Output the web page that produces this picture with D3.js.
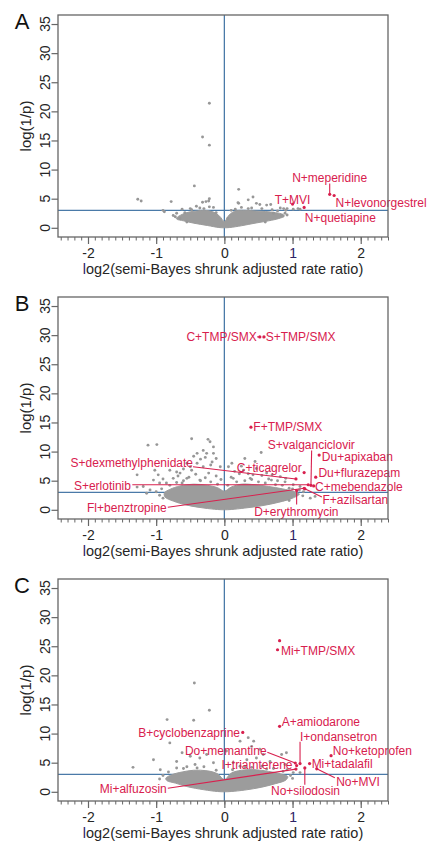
<!DOCTYPE html>
<html><head><meta charset="utf-8">
<script src="https://cdn.jsdelivr.net/npm/d3@7"></script>
<style>
body{margin:0;background:#fff}
svg{display:block}
text{font-family:"Liberation Sans",Arial,sans-serif}
</style>
</head><body>
<svg id="c" width="428" height="841"></svg>
<script>
// ---------- data ----------
const panelLetters = ["A", "B", "C"];
const xTicks = [-2, -1, 0, 1, 2];
const yTicks = [0, 5, 10, 15, 20, 25, 30, 35];
const pThreshold = 3;     // horizontal reference line, log(1/p)
const nullEffect = 0;     // vertical reference line
const xTitle = "log2(semi-Bayes shrunk adjusted rate ratio)";
const yTitle = "log(1/p)";

// dense core of the gray cloud (outline, data units)
const cloudA = [[-0.70,1.7],[-0.62,2.3],[-0.52,2.7],[-0.40,2.9],[-0.28,3.0],[-0.16,2.7],[-0.07,2.0],[0,1.1],[0.07,2.2],[0.16,2.9],[0.30,3.0],[0.45,2.9],[0.60,2.8],[0.75,2.6],[0.86,2.3],[0.88,2.0],[0.80,1.6],[0.65,1.2],[0.45,0.8],[0.25,0.35],[0.08,0.05],[0,0],[-0.08,0.05],[-0.25,0.4],[-0.45,0.8],[-0.60,1.2],[-0.70,1.5]];
const cloudB = [[-0.88,2.9],[-0.80,3.5],[-0.65,4.1],[-0.45,4.4],[-0.25,4.2],[-0.10,3.8],[0,3.2],[0.10,3.9],[0.25,4.4],[0.45,4.3],[0.65,4.0],[0.85,3.6],[1.03,3.1],[1.10,2.7],[1.0,2.0],[0.8,1.3],[0.55,0.7],[0.3,0.3],[0.1,0.05],[0,0],[-0.1,0.05],[-0.3,0.3],[-0.55,0.8],[-0.75,1.5],[-0.87,2.2]];
const cloudC = [[-0.86,2.3],[-0.78,2.9],[-0.62,3.4],[-0.45,3.7],[-0.25,3.6],[-0.10,3.1],[0,2.1],[0.10,3.2],[0.25,3.7],[0.45,3.8],[0.65,3.5],[0.82,3.1],[0.93,2.6],[0.90,2.0],[0.75,1.4],[0.55,0.8],[0.3,0.3],[0.1,0.05],[0,0],[-0.1,0.05],[-0.3,0.35],[-0.55,0.9],[-0.72,1.5],[-0.84,1.9]];

// individual gray points [log2 RR, log(1/p)]
const scatterA = [[-0.22,21.4],[-0.32,15.6],[-0.22,14.2],[-0.44,7.2],[0.21,6.6],
 [-1.27,4.9],[-1.22,4.6],[-0.78,4.5],[-0.32,4.4],[-0.27,4.5],[-0.23,4.6],[-0.22,5.0],
 [-0.41,3.7],[-0.36,3.4],[-0.22,3.6],[-0.16,3.5],[-0.88,2.75],[-0.90,3.0],[-0.70,2.5],[-0.62,3.2],[-0.65,1.6],
 [0.21,4.2],[0.35,4.8],[0.42,5.3],[0.47,4.2],[0.52,4.0],[0.62,3.9],[0.68,4.0],[0.82,3.4],[0.87,3.3],[0.90,3.0],
 [0.72,2.5],[0.16,3.2],[0.25,3.5],[1.11,3.2],[1.01,3.2],[0.89,2.5],[0.92,3.3],[1.08,3.3],[0.20,4.3],
 [-0.72,1.9],[-0.58,2.6],[-0.48,3.1],[-0.12,2.6],[0.05,1.6],[0.35,3.3],[0.55,3.3],[0.78,2.9],[0.84,2.1],[-0.55,1.0],[0.60,1.0],
 [-0.50,3.3],[-0.30,3.3],[0.10,3.0],[0.40,3.4],[0.70,3.1],[-0.75,2.1],[0.92,2.2]];
const scatterB = [[-0.99,11.2],[-1.12,11.1],[-0.48,12.2],[-0.24,12.1],[-0.21,11.7],[0.54,9.85],[-0.16,10.8],[-0.26,9.7],
 [-0.40,9.7],[-0.31,10.2],[-0.16,9.7],[-0.18,8.2],[-0.40,8.0],[-0.55,8.0],[-1.02,6.8],[-0.97,6.0],[-1.28,6.0],
 [-1.04,5.1],[-0.65,6.3],[-0.75,5.4],[-0.85,4.6],[-1.19,4.0],[-1.09,3.4],[-0.48,6.8],[-0.31,7.4],[-0.23,6.3],
 [-0.06,7.4],[-0.36,5.1],[-0.55,5.4],[-1.14,2.85],[-1.28,3.9],
 [0.06,7.4],[0.11,8.0],[0.28,6.8],[0.47,7.1],[0.62,6.3],[0.82,5.7],[0.69,5.1],[0.89,4.8],[0.13,5.4],[0.38,5.4],
 [1.11,4.0],[1.16,3.1],[1.26,2.0],[1.33,2.3],[1.01,4.3],
 [-0.95,2.5],[-1.0,3.1],[-0.92,3.6],[-0.70,4.7],[-0.60,5.0],[-0.35,5.0],[-0.20,4.8],[-0.10,4.4],[0.05,4.2],
 [0.18,4.8],[0.30,5.0],[0.50,4.8],[0.60,4.6],[0.75,4.3],[0.95,3.7],[1.10,3.4],[1.15,2.4],[0.95,1.6],[-0.90,2.0],
 [-0.12,5.8],[0.42,6.0],[0.22,6.2],[-0.42,6.1],[-0.68,5.8],
 [-0.45,9.2],[-0.35,8.7],[-0.28,9.0],[-0.20,7.7],[-0.12,8.8],[-0.50,7.4],[-0.60,7.0],[-0.70,6.5],[-0.80,6.8],
 [-0.90,5.3],[-0.95,4.6],[0.15,6.6],[0.25,7.5],[0.35,6.2],[0.55,5.9],[0.70,6.0],[0.78,5.0],[0.90,5.4],[0.45,8.3],[0.30,8.8],
 [-0.52,5.6],[-0.28,5.5],[-0.05,5.2],[0.10,5.6],[0.40,5.2],[0.65,5.3],[-0.80,4.2],[-0.62,4.6],[0.85,4.2],[1.00,3.6]];
const scatterC = [[-0.44,18.7],[-0.22,14.0],[-0.84,12.4],[-0.45,12.3],[-0.80,8.4],[-1.34,4.2],[-1.04,5.5],[-0.94,3.8],
 [-0.62,6.7],[-0.50,6.1],[-0.70,5.2],[-0.36,5.8],[-0.43,4.7],[-0.26,6.4],[-0.16,5.0],[0.03,7.0],[0.23,8.7],
 [0.35,9.3],[0.43,8.7],[0.40,7.8],[0.52,7.3],[0.57,6.4],[0.47,5.8],[0.67,5.2],[0.84,6.4],[0.89,4.7],[0.33,5.5],
 [0.13,5.0],[0.23,4.4],[0.92,3.8],[0.91,6.7],[1.01,3.3],[1.11,3.3],
 [-0.90,2.8],[-0.82,3.4],[-0.70,4.1],[-0.55,4.3],[-0.30,4.3],[-0.12,3.7],[0.12,3.8],[0.30,4.3],[0.55,4.4],
 [0.72,4.0],[0.86,3.5],[0.97,2.8],[-0.95,2.2],[1.0,2.3],[-0.60,4.0],[-0.40,4.1],[0.40,4.2],[0.62,3.9]];

// highlighted drug pairs: point (x,y), label position (lx,ly), anchor, optional leader start
const labelsA = [
 {t:"N+meperidine", x:1.545, y:5.75, lx:1.545, ly:8.6, a:"middle", lead:[1.545,7.6]},
 {t:"N+levonorgestrel", x:1.61, y:5.55, lx:1.63, ly:4.25, a:"start"},
 {t:"T+MVI", x:1.0, y:4.07, lx:1.0, ly:4.9, a:"middle"},
 {t:"N+quetiapine", x:1.17, y:3.5, lx:1.18, ly:1.8, a:"start"}
];
const labelsB = [
 {t:"C+TMP/SMX", x:0.52, y:29.7, lx:0.475, ly:29.7, a:"end", lead:[0.48,29.7]},
 {t:"S+TMP/SMX", x:0.58, y:29.7, lx:0.607, ly:29.7, a:"start", lead:[0.60,29.7]},
 {t:"F+TMP/SMX", x:0.39, y:14.2, lx:0.425, ly:14.3, a:"start"},
 {t:"S+valganciclovir", x:1.27, y:4.2, lx:1.276, ly:11.25, a:"middle", lead:[1.28,10.2]},
 {t:"Du+apixaban", x:1.39, y:9.4, lx:1.43, ly:9.2, a:"start"},
 {t:"Du+flurazepam", x:1.34, y:5.6, lx:1.38, ly:6.4, a:"start"},
 {t:"C+mebendazole", x:1.31, y:4.1, lx:1.33, ly:3.9, a:"start"},
 {t:"F+azilsartan", x:1.18, y:3.6, lx:1.44, ly:1.75, a:"start", lead:[1.43,2.2]},
 {t:"D+erythromycin", x:1.06, y:3.3, lx:1.056, ly:-0.4, a:"middle", lead:[1.06,0.9]},
 {t:"C+ticagrelor", x:1.17, y:6.4, lx:1.135, ly:7.2, a:"end"},
 {t:"S+dexmethylphenidate", x:1.05, y:5.3, lx:-0.46, ly:8.1, a:"end", lead:[-0.46,7.4]},
 {t:"S+erlotinib", x:1.23, y:4.3, lx:-1.37, ly:4.2, a:"end", lead:[-1.35,4.3]},
 {t:"Fl+benztropine", x:1.17, y:3.7, lx:-0.845, ly:0.4, a:"end", lead:[-0.83,0.45]}
];
const labelsC = [
 {t:null, x:0.81, y:25.95},
 {t:"Mi+TMP/SMX", x:0.78, y:24.4, lx:0.83, ly:24.3, a:"start"},
 {t:"A+amiodarone", x:0.81, y:11.25, lx:0.84, ly:12.0, a:"start"},
 {t:"B+cyclobenzaprine", x:0.27, y:10.2, lx:0.23, ly:10.2, a:"end"},
 {t:"I+ondansetron", x:1.11, y:4.85, lx:1.11, ly:9.4, a:"start", lead:[1.11,8.6]},
 {t:"No+ketoprofen", x:1.565, y:6.2, lx:1.59, ly:7.1, a:"start"},
 {t:"Do+memantine", x:1.04, y:4.95, lx:0.62, ly:7.1, a:"end", lead:[0.63,6.8]},
 {t:"I+triamterene", x:1.06, y:4.5, lx:1.0, ly:4.7, a:"end"},
 {t:"Mi+alfuzosin", x:1.05, y:3.9, lx:-0.845, ly:0.5, a:"end", lead:[-0.83,0.6]},
 {t:"No+silodosin", x:1.18, y:4.1, lx:1.19, ly:0.15, a:"middle", lead:[1.18,1.2]},
 {t:"Mi+tadalafil", x:1.25, y:4.85, lx:1.28, ly:4.85, a:"start"},
 {t:"No+MVI", x:1.355, y:3.95, lx:1.64, ly:1.75, a:"start", lead:[1.62,2.4]}
];

const panels = [
 {letter:panelLetters[0], cloud:cloudA, scatter:scatterA, labels:labelsA},
 {letter:panelLetters[1], cloud:cloudB, scatter:scatterB, labels:labelsB},
 {letter:panelLetters[2], cloud:cloudC, scatter:scatterC, labels:labelsC}
];

// ---------- layout ----------
const plotL = 58, plotR = 388, plotH = 222;
const panelTops = [15, 297, 579];
const gray = "#979797", cloudFill = "#9c9c9c", red = "#d8204e", blue = "#4a7aa8", boxCol = "#666", txt = "#262626";

const svg = d3.select("#c");
const x = d3.scaleLinear().domain([-2.44, 2.40]).range([plotL, plotR]);
const minorTicks = d3.range(-24, 25).map(k => k / 10);

panels.forEach((p, i) => {
  const top = panelTops[i], bottom = top + plotH;
  const y = d3.scaleLinear().domain([-1.58, 36.55]).range([bottom, top]);
  const g = svg.append("g");

  const clipId = "clip" + i;
  svg.append("clipPath").attr("id", clipId).append("rect")
    .attr("x", plotL).attr("y", top).attr("width", plotR - plotL).attr("height", plotH);
  const inner = g.append("g").attr("clip-path", `url(#${clipId})`);

  // reference lines
  inner.append("line").attr("x1", plotL).attr("x2", plotR).attr("y1", y(pThreshold)).attr("y2", y(pThreshold))
    .attr("stroke", blue).attr("stroke-width", 1.3);
  inner.append("line").attr("x1", x(nullEffect)).attr("x2", x(nullEffect)).attr("y1", top).attr("y2", bottom)
    .attr("stroke", blue).attr("stroke-width", 1.3);

  // dense cloud
  inner.append("path").datum(p.cloud)
    .attr("d", d3.line().x(d => x(d[0])).y(d => y(d[1])).curve(d3.curveCatmullRomClosed))
    .attr("fill", cloudFill).attr("stroke", cloudFill).attr("stroke-width", 1).attr("stroke-linejoin", "round");

  inner.selectAll("circle.g").data(p.scatter).join("circle")
    .attr("cx", d => x(d[0])).attr("cy", d => y(d[1])).attr("r", 1.45).attr("fill", gray);

  // leaders
  g.selectAll("line.lead").data(p.labels.filter(d => d.lead)).join("line")
    .attr("x1", d => x(d.lead[0])).attr("y1", d => y(d.lead[1]))
    .attr("x2", d => x(d.x)).attr("y2", d => y(d.y))
    .attr("stroke", red).attr("stroke-width", 1.1);
  g.selectAll("circle.r").data(p.labels).join("circle")
    .attr("cx", d => x(d.x)).attr("cy", d => y(d.y)).attr("r", 1.6).attr("fill", red);
  g.selectAll("text.lab").data(p.labels.filter(d => d.t)).join("text")
    .attr("x", d => x(d.lx)).attr("y", d => y(d.ly)).attr("dy", "0.36em")
    .attr("text-anchor", d => d.a).attr("font-size", 12).attr("fill", red).text(d => d.t);

  // box
  g.append("rect").attr("x", plotL).attr("y", top).attr("width", plotR - plotL).attr("height", plotH)
    .attr("fill", "none").attr("stroke", boxCol).attr("stroke-width", 1.3);

  // x axis
  const xa = g.append("g").attr("transform", `translate(0,${bottom})`)
    .call(d3.axisBottom(x).tickValues(minorTicks).tickSize(3.5).tickFormat(""));
  xa.select(".domain").remove();
  xa.selectAll("line").attr("stroke", boxCol);
  const xb = g.append("g").attr("transform", `translate(0,${bottom})`)
    .call(d3.axisBottom(x).tickValues(xTicks).tickSize(7).tickPadding(4).tickFormat(d => String(d)));
  xb.select(".domain").remove();
  xb.selectAll("line").attr("stroke", boxCol).attr("stroke-width", 1.2);
  xb.selectAll("text").attr("font-size", 14).attr("font-family", '"Liberation Sans",Arial,sans-serif')
    .attr("fill", d => d === 1 ? "#2d2366" : txt);

  // y axis
  const ya = g.append("g").attr("transform", `translate(${plotL},0)`)
    .call(d3.axisLeft(y).tickValues(yTicks).tickSize(6.5).tickFormat(""));
  ya.select(".domain").remove();
  ya.selectAll("line").attr("stroke", boxCol).attr("stroke-width", 1.2);
  g.selectAll("text.yt").data(yTicks).join("text")
    .attr("x", 50).attr("y", d => y(d))
    .attr("transform", d => `rotate(-90,50,${y(d)})`)
    .attr("text-anchor", "middle").attr("font-size", 14).attr("fill", txt).text(d => d);

  // titles
  const xt = g.append("text").attr("x", (plotL + plotR) / 2).attr("y", bottom + 37)
    .attr("text-anchor", "middle").attr("font-size", 14.5).attr("fill", txt);
  xt.append("tspan").attr("fill", "#2d2366").text(xTitle.slice(0, 1));
  xt.append("tspan").text(xTitle.slice(1));
  g.append("text").attr("x", 31).attr("y", top + plotH / 2)
    .attr("transform", `rotate(-90,31,${top + plotH / 2})`)
    .attr("text-anchor", "middle").attr("font-size", 15).attr("fill", txt).text(yTitle);

  g.append("text").attr("x", 22).attr("y", top + 13.5).attr("text-anchor", "middle")
    .attr("font-size", 22).attr("fill", "#111").text(p.letter);
});
</script>
</body></html>
